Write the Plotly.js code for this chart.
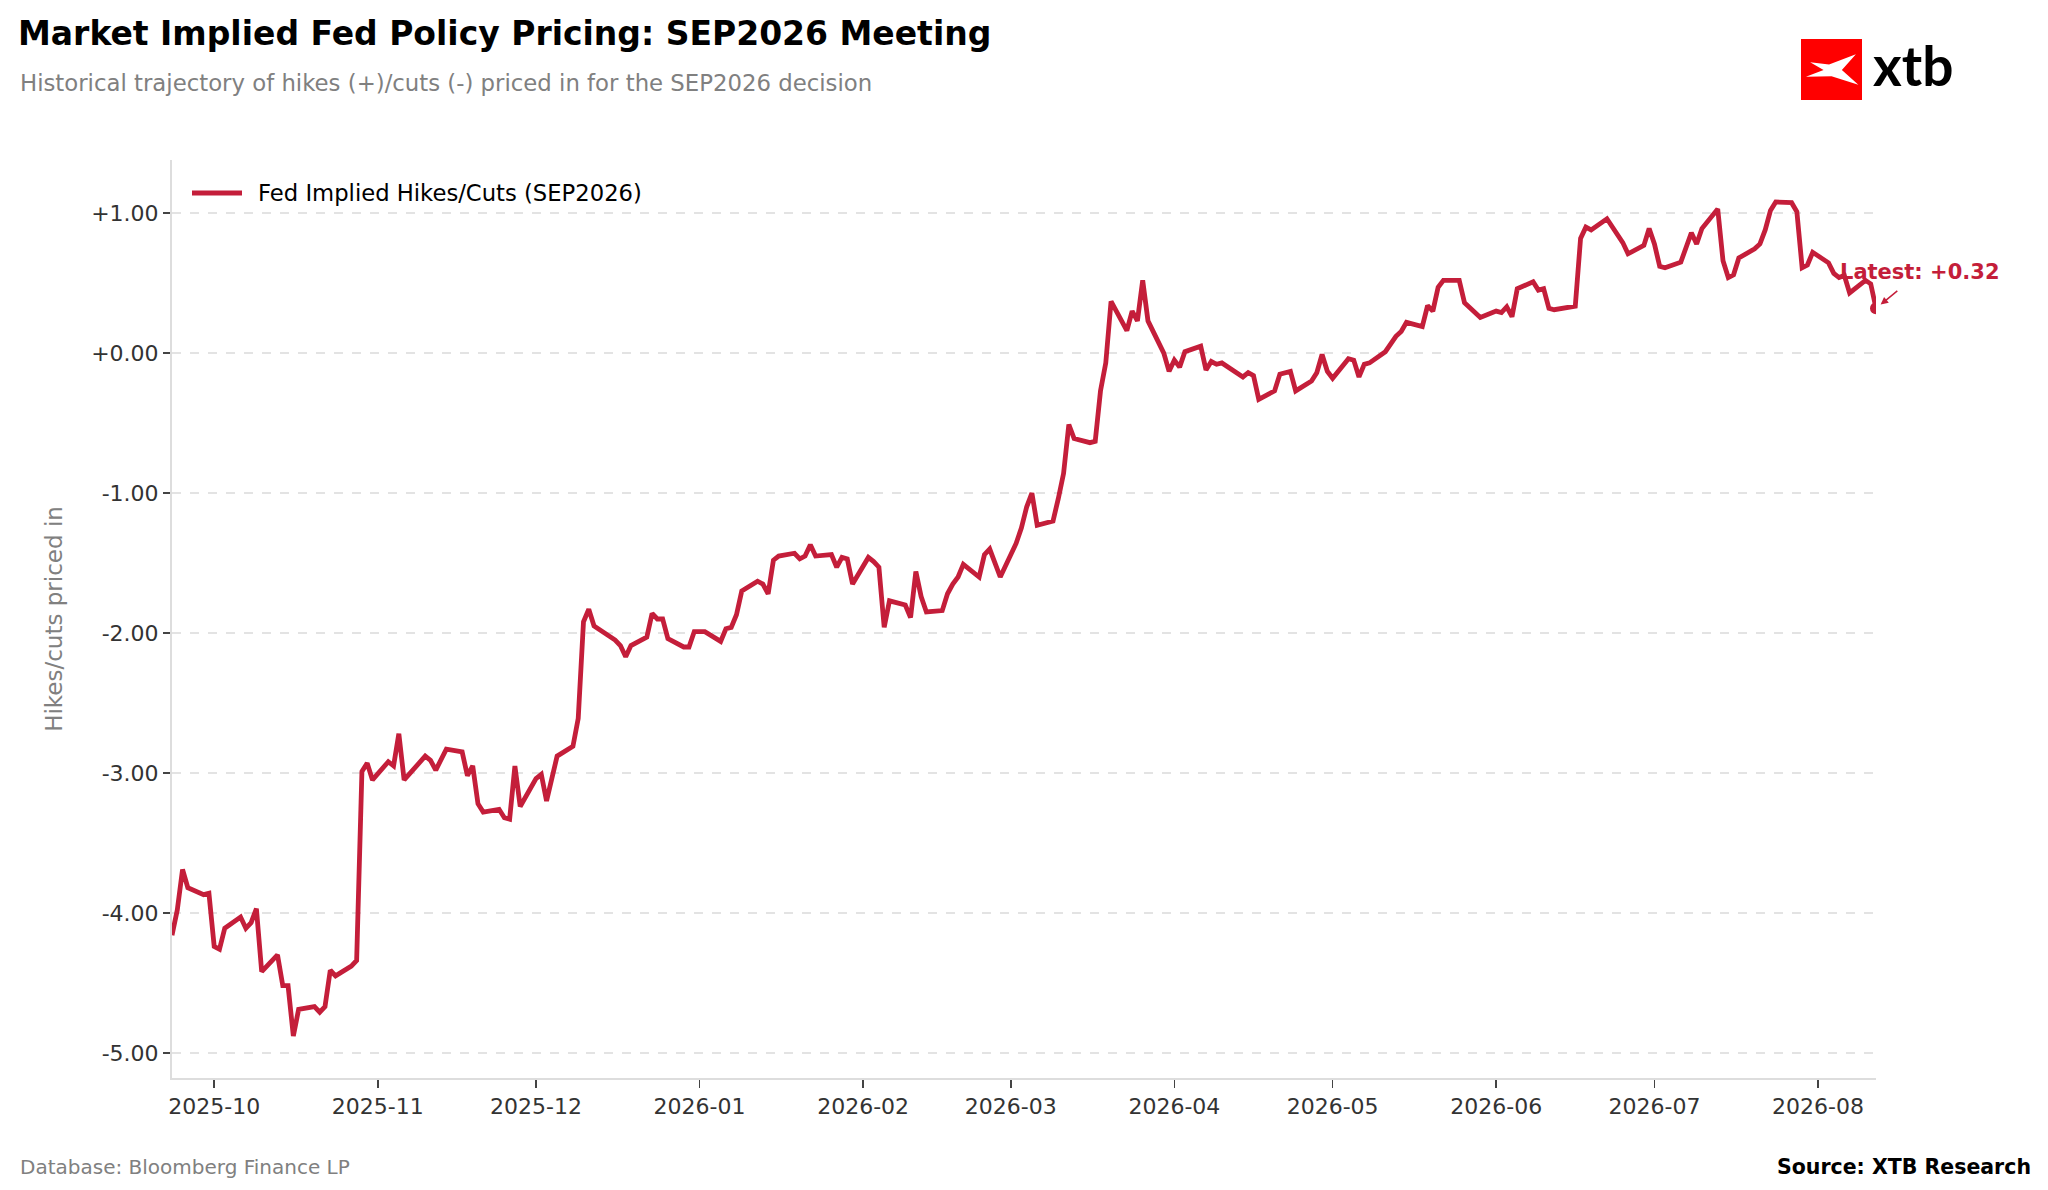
<!DOCTYPE html>
<html>
<head>
<meta charset="utf-8">
<script src="https://cdn.plot.ly/plotly-3.0.1.min.js"></script>
<style>
  html, body { margin: 0; padding: 0; background: #ffffff; }
  #chart { width: 2048px; height: 1190px; }
</style>
</head>
<body>
<div id="chart"></div>
<script>
// ---- Data ----
const dates = [
  '2025-09-23','2025-09-24','2025-09-25','2025-09-26','2025-09-29','2025-09-30',
  '2025-10-01','2025-10-02','2025-10-03','2025-10-06','2025-10-07','2025-10-08','2025-10-09','2025-10-10',
  '2025-10-13','2025-10-14','2025-10-15','2025-10-16','2025-10-17','2025-10-20','2025-10-21','2025-10-22',
  '2025-10-23','2025-10-24','2025-10-27','2025-10-28','2025-10-29','2025-10-30','2025-10-31',
  '2025-11-03','2025-11-04','2025-11-05','2025-11-06','2025-11-10','2025-11-11','2025-11-12','2025-11-14',
  '2025-11-17','2025-11-18','2025-11-19','2025-11-20','2025-11-21','2025-11-24','2025-11-25','2025-11-26',
  '2025-11-27','2025-11-28','2025-12-01','2025-12-02','2025-12-03','2025-12-05','2025-12-08','2025-12-09',
  '2025-12-10','2025-12-11','2025-12-12','2025-12-16','2025-12-17','2025-12-18','2025-12-19','2025-12-22',
  '2025-12-23','2025-12-24','2025-12-25','2025-12-26','2025-12-29','2025-12-30','2025-12-31',
  '2026-01-02','2026-01-05','2026-01-06','2026-01-07','2026-01-08','2026-01-09','2026-01-12','2026-01-13',
  '2026-01-14','2026-01-15','2026-01-16','2026-01-19','2026-01-20','2026-01-21','2026-01-22','2026-01-23',
  '2026-01-26','2026-01-27','2026-01-28','2026-01-29','2026-01-30','2026-02-02','2026-02-03','2026-02-04',
  '2026-02-05','2026-02-06','2026-02-09','2026-02-10','2026-02-11','2026-02-12','2026-02-13','2026-02-16',
  '2026-02-17','2026-02-18','2026-02-19','2026-02-20','2026-02-23','2026-02-24','2026-02-25','2026-02-27',
  '2026-03-02','2026-03-03','2026-03-04','2026-03-05','2026-03-06','2026-03-09','2026-03-10','2026-03-11',
  '2026-03-12','2026-03-13','2026-03-16','2026-03-17','2026-03-18','2026-03-19','2026-03-20','2026-03-23',
  '2026-03-24','2026-03-25','2026-03-26','2026-03-27','2026-03-30','2026-03-31','2026-04-01','2026-04-02',
  '2026-04-03','2026-04-06','2026-04-07','2026-04-08','2026-04-09','2026-04-10','2026-04-14','2026-04-15',
  '2026-04-16','2026-04-17','2026-04-20','2026-04-21','2026-04-23','2026-04-24','2026-04-27','2026-04-28',
  '2026-04-29','2026-04-30','2026-05-01','2026-05-04','2026-05-05','2026-05-06','2026-05-07','2026-05-08',
  '2026-05-11','2026-05-12','2026-05-13','2026-05-14','2026-05-15','2026-05-18','2026-05-19','2026-05-20',
  '2026-05-21','2026-05-22','2026-05-25','2026-05-26','2026-05-29','2026-06-01','2026-06-02','2026-06-03',
  '2026-06-04','2026-06-05','2026-06-08','2026-06-09','2026-06-10','2026-06-11','2026-06-12','2026-06-16',
  '2026-06-17','2026-06-18','2026-06-19','2026-06-22','2026-06-24','2026-06-25','2026-06-26','2026-06-29',
  '2026-06-30','2026-07-01','2026-07-02','2026-07-03','2026-07-06','2026-07-07','2026-07-08','2026-07-09',
  '2026-07-10','2026-07-13','2026-07-14','2026-07-15','2026-07-16','2026-07-17','2026-07-20','2026-07-21',
  '2026-07-22','2026-07-23','2026-07-24','2026-07-27','2026-07-28','2026-07-29','2026-07-30','2026-07-31',
  '2026-08-03','2026-08-04','2026-08-05','2026-08-06','2026-08-07','2026-08-10','2026-08-11','2026-08-12'
];
const impliedMoves = [
  -4.16,-3.98,-3.69,-3.82,-3.87,-3.86,
  -4.24,-4.26,-4.11,-4.03,-4.11,-4.07,-3.97,-4.42,
  -4.30,-4.52,-4.52,-4.88,-4.69,-4.67,-4.71,-4.67,
  -4.41,-4.45,-4.38,-4.34,-2.99,-2.93,-3.05,
  -2.92,-2.95,-2.72,-3.05,-2.88,-2.91,-2.98,-2.83,
  -2.85,-3.02,-2.95,-3.22,-3.28,-3.26,-3.32,-3.33,
  -2.95,-3.24,-3.04,-3.01,-3.20,-2.88,-2.81,-2.61,
  -1.92,-1.83,-1.95,-2.05,-2.09,-2.17,-2.09,-2.03,
  -1.86,-1.90,-1.90,-2.04,-2.10,-2.10,-1.99,
  -1.99,-2.06,-1.97,-1.96,-1.87,-1.70,-1.63,-1.65,
  -1.72,-1.48,-1.45,-1.43,-1.47,-1.45,-1.37,-1.45,
  -1.44,-1.53,-1.46,-1.47,-1.65,-1.46,-1.49,-1.53,
  -1.96,-1.77,-1.80,-1.89,-1.56,-1.74,-1.85,-1.84,
  -1.72,-1.65,-1.60,-1.51,-1.60,-1.44,-1.40,-1.60,
  -1.36,-1.25,-1.10,-1.00,-1.23,-1.20,-1.04,-0.86,
  -0.51,-0.61,-0.64,-0.63,-0.27,-0.07,0.37,0.16,
  0.30,0.23,0.52,0.23,0.00,-0.13,-0.05,-0.10,
  0.01,0.05,-0.12,-0.06,-0.08,-0.07,-0.17,-0.14,
  -0.16,-0.33,-0.27,-0.15,-0.13,-0.27,-0.20,-0.14,
  -0.01,-0.13,-0.18,-0.04,-0.05,-0.17,-0.08,-0.07,
  0.01,0.07,0.12,0.155,0.22,0.19,0.34,0.30,
  0.47,0.52,0.52,0.36,0.255,0.30,0.29,0.33,
  0.26,0.46,0.51,0.45,0.46,0.32,0.31,0.335,
  0.82,0.90,0.88,0.96,0.85,0.79,0.71,0.77,
  0.89,0.78,0.62,0.61,0.65,0.745,0.86,0.78,
  0.89,1.03,0.66,0.54,0.56,0.68,0.745,0.78,
  0.88,1.02,1.08,1.075,1.01,0.61,0.63,0.72,
  0.645,0.57,0.54,0.555,0.43,0.52,0.495,0.32
];
const yTickValues = [1, 0, -1, -2, -3, -4, -5];
const yTickLabels = ['+1.00', '+0.00', '-1.00', '-2.00', '-3.00', '-4.00', '-5.00'];
const seriesName = 'Fed Implied Hikes/Cuts (SEP2026)';

// ---- Layout geometry (pixels) ----
const W = 2048, H = 1190;
const L = 172, R = 1876, T = 160, B = 1078;
const px = x => (x - L) / (R - L);
const py = y => (B - y) / (B - T);

const RED = '#C41E3A';
const FONT = 'DejaVu Sans';

const lastIdx = dates.length - 1;
const latestLabel = 'Latest: ' + (impliedMoves[lastIdx] >= 0 ? '+' : '') + impliedMoves[lastIdx].toFixed(2);

const traces = [
  {
    x: dates, y: impliedMoves, type: 'scatter', mode: 'lines',
    name: seriesName,
    line: { color: RED, width: 4.8 },
    showlegend: false,
    hoverinfo: 'skip'
  },
  {
    x: [dates[lastIdx]], y: [impliedMoves[lastIdx]], type: 'scatter', mode: 'markers',
    marker: { color: RED, size: 12 },
    showlegend: false, hoverinfo: 'skip', cliponaxis: true
  }
];

const logoSvg = '<svg xmlns="http://www.w3.org/2000/svg" width="100" height="100" viewBox="0 0 100 100">' +
  '<rect x="0" y="0" width="100" height="100" fill="#FF0000"/>' +
  '<path d="M15,38 L46,42 L90,25 L67,51 L94,75 L50,61 L8,62 L37,51 Z" fill="#FFFFFF"/>' +
  '</svg>';
const logoSrc = 'data:image/svg+xml;base64,' + btoa(logoSvg);

const layout = {
  width: W, height: H,
  margin: { l: L, r: W - R, t: T, b: H - B, pad: 0 },
  paper_bgcolor: '#ffffff', plot_bgcolor: '#ffffff',
  font: { family: FONT, color: '#333333' },
  title: {
    text: 'Market Implied Fed Policy Pricing: SEP2026 Meeting',
    xref: 'container', yref: 'container',
    x: 18 / W, xanchor: 'left',
    y: 1 - 33 / H, yanchor: 'middle',
    font: { family: FONT, size: 33, color: '#000000', weight: 'bold' }
  },
  showlegend: false,
  xaxis: {
    type: 'date',
    range: [dates[0], dates[lastIdx]],
    tickformat: '%Y-%m', dtick: 'M1', tick0: '2025-10-01',
    showgrid: false, zeroline: false,
    showline: true, linecolor: '#dddddd', linewidth: 2,
    ticks: 'outside', ticklen: 8, tickwidth: 1.5, tickcolor: '#444444',
    tickfont: { family: FONT, size: 22, color: '#333333' }
  },
  yaxis: {
    range: [-5.18, 1.38],
    tickvals: yTickValues, ticktext: yTickLabels,
    showgrid: true, gridcolor: '#e3e3e3', gridwidth: 1.5, griddash: 'dash',
    zeroline: false,
    showline: true, linecolor: '#dddddd', linewidth: 2,
    ticks: 'outside', ticklen: 7, tickwidth: 1.5, tickcolor: '#444444',
    tickfont: { family: FONT, size: 22, color: '#333333' },
    title: { text: 'Hikes/cuts priced in', standoff: 22, font: { family: FONT, size: 23, color: '#808080' } }
  },
  shapes: [
    // legend key
    {
      type: 'line', xref: 'paper', yref: 'paper',
      x0: px(192), x1: px(242), y0: py(193), y1: py(193),
      line: { color: RED, width: 4.8 }
    }
  ],
  images: [{
    source: logoSrc, xref: 'paper', yref: 'paper',
    x: px(1801), y: py(39), sizex: 61 / (R - L), sizey: 61 / (B - T),
    xanchor: 'left', yanchor: 'top', sizing: 'stretch', layer: 'above'
  }],
  annotations: [
    {
      text: seriesName,
      xref: 'paper', yref: 'paper', x: px(256), y: py(193), xanchor: 'left', yanchor: 'middle',
      showarrow: false, font: { family: FONT, size: 22.7, color: '#000000' }
    },
    {
      text: 'Historical trajectory of hikes (+)/cuts (-) priced in for the SEP2026 decision',
      xref: 'paper', yref: 'paper', x: px(18), y: py(83), xanchor: 'left', yanchor: 'middle',
      showarrow: false, font: { family: FONT, size: 22.8, color: '#808080' }
    },
    {
      text: 'xtb', xref: 'paper', yref: 'paper', x: px(1871), y: py(65), xanchor: 'left', yanchor: 'middle',
      showarrow: false, font: { family: 'Lato', size: 55, color: '#000000', weight: 'bold' }
    },
    {
      text: 'Database: Bloomberg Finance LP',
      xref: 'paper', yref: 'paper', x: px(18), y: py(1167), xanchor: 'left', yanchor: 'middle',
      showarrow: false, font: { family: FONT, size: 20, color: '#808080' }
    },
    {
      text: 'Source: XTB Research',
      xref: 'paper', yref: 'paper', x: px(2033), y: py(1167), xanchor: 'right', yanchor: 'middle',
      showarrow: false, font: { family: FONT, size: 20.5, color: '#000000', weight: 'bold' }
    },
    {
      text: latestLabel,
      xref: 'x', yref: 'y', x: dates[lastIdx], y: impliedMoves[lastIdx],
      ax: 44, ay: -36, axref: 'pixel', ayref: 'pixel',
      showarrow: true, arrowhead: 2, arrowsize: 1, arrowwidth: 1.5, arrowcolor: RED,
      standoff: 6, startstandoff: 8,
      font: { family: FONT, size: 21, color: RED, weight: 'bold' }
    }
  ]
};

Plotly.newPlot('chart', traces, layout, { displayModeBar: false, staticPlot: true });
</script>
</body>
</html>
